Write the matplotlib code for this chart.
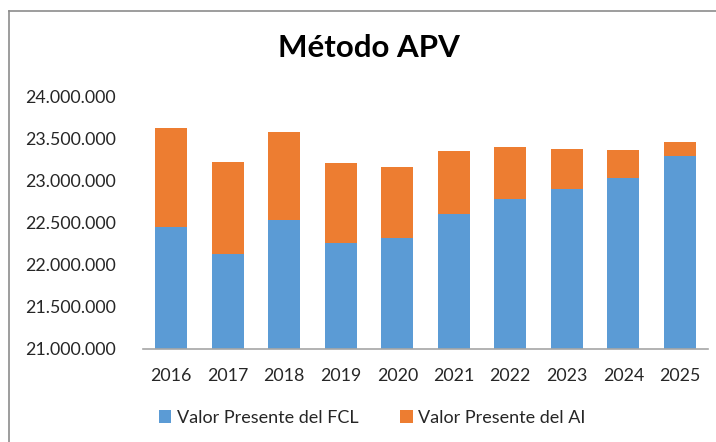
import numpy as np
import matplotlib
matplotlib.use("Agg")
import matplotlib.pyplot as plt
from matplotlib.ticker import FuncFormatter
from matplotlib.lines import Line2D

years = ["2016", "2017", "2018", "2019", "2020", "2021", "2022", "2023", "2024", "2025"]
vp_fcl = [22446000, 22125000, 22537000, 22260000, 22319000, 22609000, 22783000, 22898000, 23029000, 23290000]
vp_ai = [1177000, 1098000, 1042000, 951000, 844000, 740000, 622000, 483000, 340000, 174000]

blue = "#5B9BD5"
orange = "#ED7D31"
txt = "#262626"

plt.rcParams['font.family'] = ['Lato', 'DejaVu Sans']

fig = plt.figure(figsize=(7.16, 4.42), dpi=100)
ax = fig.add_axes([143/716, 1 - 348.7/442, (708 - 143)/716, (348.7 - 96.7)/442])

x = np.arange(len(years))
ax.bar(x, vp_fcl, width=0.565, color=blue, label="Valor Presente del FCL")
ax.bar(x, vp_ai, width=0.565, bottom=vp_fcl, color=orange, label="Valor Presente del AI")

ax.set_ylim(21000000, 24000000)
ax.set_yticks(np.arange(21000000, 24000001, 500000))
ax.yaxis.set_major_formatter(FuncFormatter(lambda v, p: f"{int(v):,}".replace(",", ".")))
ax.set_xlim(-0.5, len(years) - 0.5)
ax.set_xticks(x)
ax.set_xticklabels(years)

for s in ["top", "right", "left"]:
    ax.spines[s].set_visible(False)
ax.spines["bottom"].set_color("#a6a6a6")
ax.spines["bottom"].set_linewidth(1.2)
ax.tick_params(axis="both", length=0, labelsize=12.8, colors=txt)
ax.tick_params(axis="y", pad=19.5)
ax.tick_params(axis="x", pad=14)

fig.text(369/716, 1 - 48/442, "Método APV", ha="center", va="center",
         fontsize=22.5, fontweight="bold", color="black")

fig.legend(loc="center", bbox_to_anchor=(372/716, 1 - 418/442), ncol=2, frameon=False,
           fontsize=13, handlelength=0.7, handleheight=0.7, handletextpad=0.3,
           columnspacing=2.3, labelcolor=txt)

# chart border (top and left visible)
fig.add_artist(Line2D([9/716, 1], [1 - 11/442, 1 - 11/442], color="#8c8c8c", lw=1.2))
fig.add_artist(Line2D([9/716, 9/716], [0, 1 - 11/442], color="#8c8c8c", lw=1.2))

fig.savefig("out.png", dpi=100)
